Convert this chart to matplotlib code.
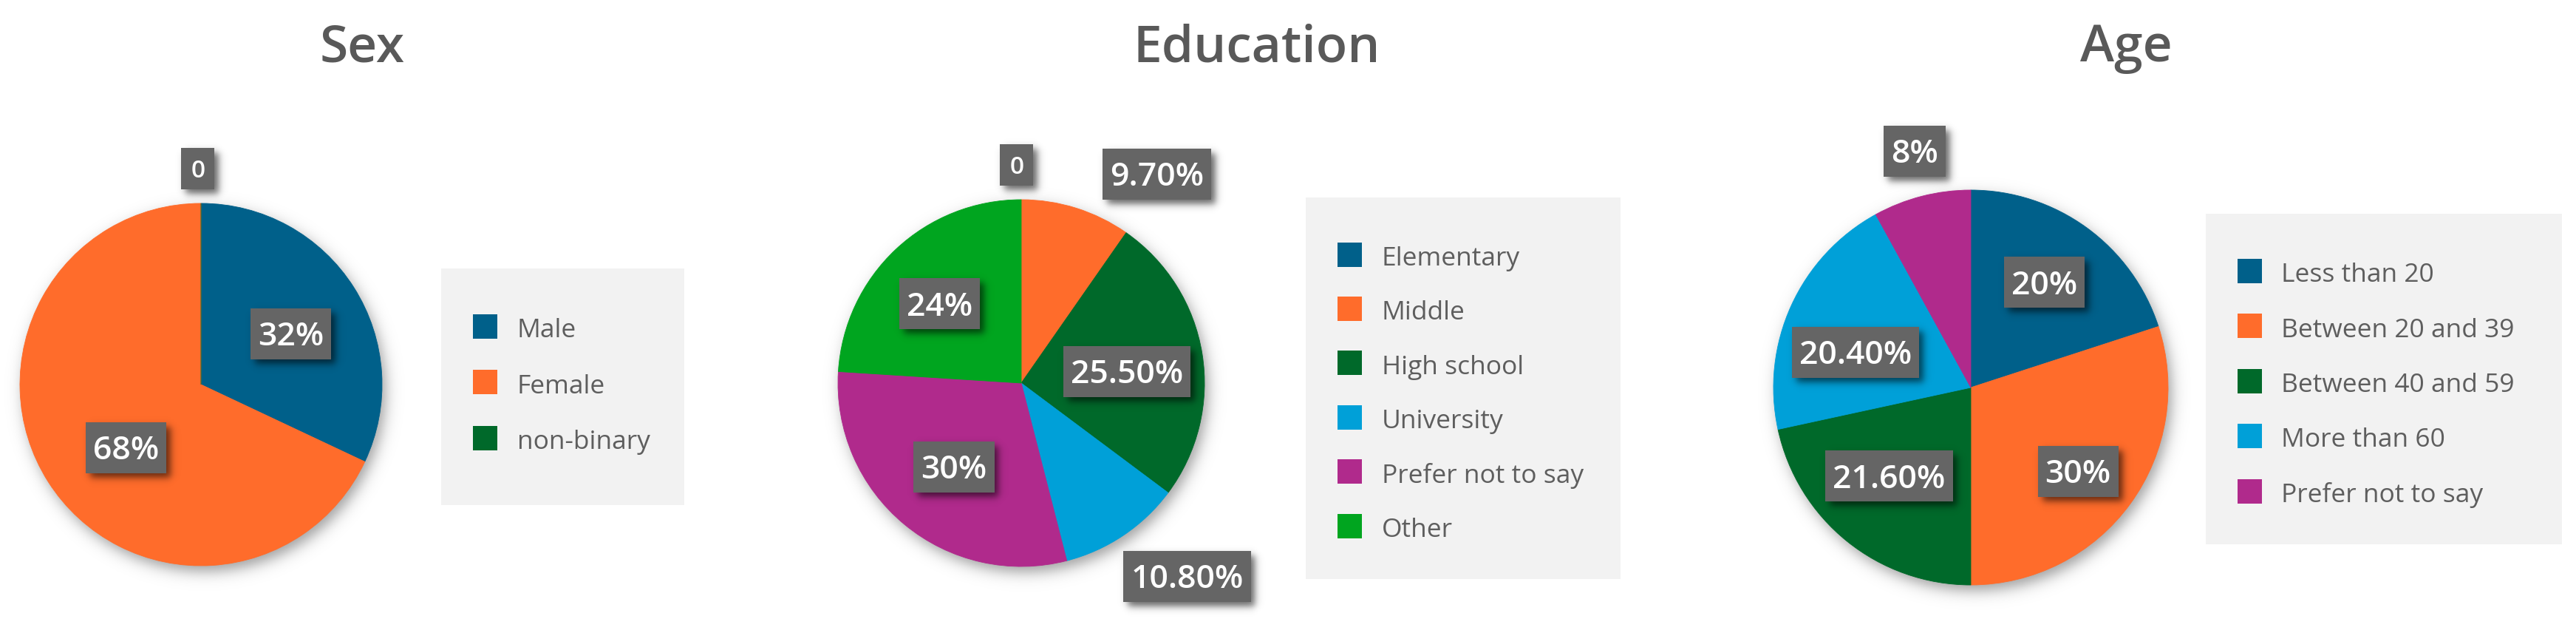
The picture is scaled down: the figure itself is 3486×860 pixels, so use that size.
import numpy as np
import matplotlib
matplotlib.use("Agg")
import matplotlib.pyplot as plt
from matplotlib import font_manager
from matplotlib.patches import Rectangle

# ---------------- data ----------------
titles = ["Sex", "Education", "Age"]

sex_labels = ["Male", "Female", "non-binary"]
sex_values = [32, 68, 0]

edu_labels = ["Elementary", "Middle", "High school", "University",
              "Prefer not to say", "Other"]
edu_values = [0, 9.7, 25.5, 10.8, 30, 24]

age_labels = ["Less than 20", "Between 20 and 39", "Between 40 and 59",
              "More than 60", "Prefer not to say"]
age_values = [20, 30, 21.6, 20.4, 8]

# ---------------- style ----------------
DARK_BLUE = "#00608A"
ORANGE = "#FF6C2B"
DARK_GREEN = "#00692A"
LIGHT_BLUE = "#00A0D8"
MAGENTA = "#B02A8C"
GREEN = "#00A51F"
BOX_GRAY = "#656565"
TEXT_GRAY = "#5E5E5E"
LEGEND_BG = "#F2F2F2"

sex_colors = [DARK_BLUE, ORANGE, DARK_GREEN]
edu_colors = [DARK_BLUE, ORANGE, DARK_GREEN, LIGHT_BLUE, MAGENTA, GREEN]
age_colors = [DARK_BLUE, ORANGE, DARK_GREEN, LIGHT_BLUE, MAGENTA]

avail = {f.name for f in font_manager.fontManager.ttflist}
MAIN_FONT = ["Open Sans", "DejaVu Sans"]
if "Liberation Sans Narrow" in avail:
    LEG_FONT, LEG_SIZE = ["Liberation Sans Narrow", "DejaVu Sans"], 31
else:
    LEG_FONT, LEG_SIZE = ["Open Sans", "DejaVu Sans"], 25.5

W, H = 3486, 860
fig = plt.figure(figsize=(W / 100, H / 100), dpi=100)
ax = fig.add_axes([0, 0, 1, 1])
fig.patch.set_facecolor("white")


def Y(py):
    return H - py


def phi(z):
    return 1.0 / (1.0 + np.exp(-1.702 * z))


def disk_shadow(cx, cy, r, dx=5, dy=8, sigma=10, amax=0.38, z=0.5):
    m = 60
    xs = np.arange(cx - r - m, cx + r + m, 1.0)
    ys = np.arange(cy - r - m, cy + r + m, 1.0)
    X, YY = np.meshgrid(xs, ys)
    d = np.hypot(X - (cx + dx), YY - (cy - dy))
    a = amax * phi((r - d) / sigma)
    img = np.zeros(a.shape + (4,))
    img[..., 3] = a
    ax.imshow(img, extent=(xs[0], xs[-1], ys[0], ys[-1]), origin="lower",
              interpolation="bilinear", zorder=z)


def rect_shadow(x0, y0, x1, y1, dx=6, dy=6, sigma=5, amax=0.6, z=4):
    m = 30
    xs = np.arange(x0 - m, x1 + m + dx, 1.0)
    ys = np.arange(y0 - m - dy, y1 + m, 1.0)
    X, YY = np.meshgrid(xs, ys)
    sx0, sx1, sy0, sy1 = x0 + dx, x1 + dx, y0 - dy, y1 - dy
    a = amax * phi((X - sx0) / sigma) * phi((sx1 - X) / sigma) \
        * phi((YY - sy0) / sigma) * phi((sy1 - YY) / sigma)
    img = np.zeros(a.shape + (4,))
    img[..., 3] = a
    ax.imshow(img, extent=(xs[0], xs[-1], ys[0], ys[-1]), origin="lower",
              interpolation="bilinear", zorder=z)


def fmt(v):
    if v == 0:
        return "0"
    if float(v).is_integer():
        return f"{v:.0f}%"
    return f"{v:.2f}%"


panels = [
    dict(labels=sex_labels, values=sex_values, colors=sex_colors,
         center=(272, 520), r=245, title_x=490,
         box=(597, 363, 926, 683), patch_x=640, text_x=700,
         row0=441, step=75.5,
         place=[(0.57, -3), (0.54, 7.6), (1.19, 0.8)]),
    dict(labels=edu_labels, values=edu_values, colors=edu_colors,
         center=(1382, 518), r=248, title_x=1701,
         box=(1767, 267, 2193, 783), patch_x=1810, text_x=1870,
         row0=344, step=73.4,
         place=[(1.19, 1.2), (1.36, -15.5), (0.58, -2.9), (1.39, 6.8),
                (0.585, 0.8), (0.62, 2.6)]),
    dict(labels=age_labels, values=age_values, colors=age_colors,
         center=(2667, 524), r=267, title_x=2877,
         box=(2985, 289, 3467, 736), patch_x=3028, text_x=3087,
         row0=366, step=74.5,
         place=[(0.65, 1), (0.69, -2), (0.61, -3.8), (0.61, 7.5),
                (1.23, -1)]),
]

labels_info = []   # (text artist, center x, center y, box height, hpad)
PATCH = 33
BIG_PT, SMALL_PT = 32, 24
CAP = 0.714

for title, p in zip(titles, panels):
    cx, cy = p["center"][0], Y(p["center"][1])
    r = p["r"]
    disk_shadow(cx, cy, r)
    wedges, _ = ax.pie(p["values"], colors=p["colors"], startangle=90,
                       counterclock=False, center=(cx, cy), radius=r,
                       frame=True, wedgeprops=dict(linewidth=0.6))
    for w in wedges:
        w.set_zorder(1)
        w.set_edgecolor(w.get_facecolor())

    for w, v, (frac, dang) in zip(wedges, p["values"], p["place"]):
        mid = np.deg2rad((w.theta1 + w.theta2) / 2 + dang)
        lx = cx + frac * r * np.cos(mid)
        ly = cy + frac * r * np.sin(mid)
        small = (v == 0)
        pt = SMALL_PT if small else BIG_PT
        cap_px = CAP * pt * 100 / 72
        t = ax.text(lx, ly - cap_px / 2, fmt(v), ha="center", va="baseline",
                    color="white", fontsize=pt, fontweight="semibold",
                    family=MAIN_FONT, zorder=6)
        labels_info.append((t, lx, ly, 56 if small else 69, 13 if small else 10))

    ax.text(p["title_x"], Y(83), title, ha="center", va="baseline",
            fontsize=50, fontweight="semibold", color="#595959",
            family=MAIN_FONT, zorder=6)

    bx0, by0, bx1, by1 = p["box"]
    ax.add_patch(Rectangle((bx0, Y(by1)), bx1 - bx0, by1 - by0,
                           fc=LEGEND_BG, ec="none", zorder=2))
    for i, (lab, col) in enumerate(zip(p["labels"], p["colors"])):
        rc = p["row0"] + i * p["step"]
        ax.add_patch(Rectangle((p["patch_x"], Y(rc + PATCH / 2)), PATCH, PATCH,
                               fc=col, ec="none", zorder=3))
        ax.text(p["text_x"], Y(rc + 15), lab, ha="left", va="baseline",
                fontsize=LEG_SIZE, color=TEXT_GRAY, family=LEG_FONT, zorder=3)

ax.set_xlim(0, W)
ax.set_ylim(0, H)
ax.set_aspect("auto")
ax.axis("off")

fig.canvas.draw()
renderer = fig.canvas.get_renderer()
for t, lx, ly, bh, hpad in labels_info:
    tb = t.get_window_extent(renderer)
    bw = tb.width + 2 * hpad
    x0, y0 = lx - bw / 2, ly - bh / 2
    ax.add_patch(Rectangle((x0, y0), bw, bh, fc=BOX_GRAY, ec="none", zorder=5))
    rect_shadow(x0, y0, x0 + bw, y0 + bh)

ax.set_xlim(0, W)
ax.set_ylim(0, H)
ax.set_aspect("auto")

fig.savefig("out.png", dpi=100, facecolor="white")
